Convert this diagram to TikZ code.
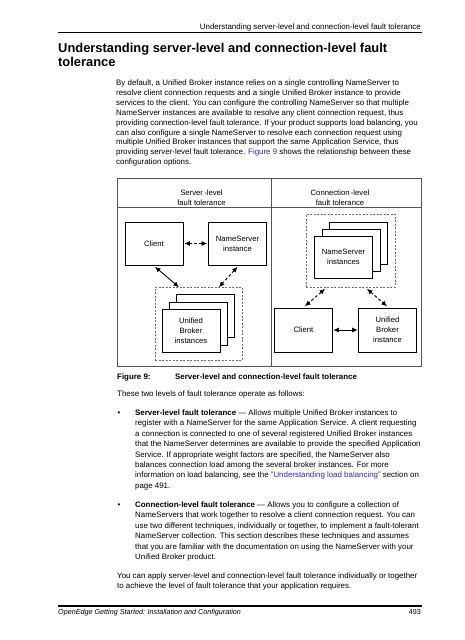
\documentclass[tikz,border=0pt]{standalone}
\usepackage{fontspec}
\setmainfont{Liberation Sans}
\usetikzlibrary{arrows.meta,calc}
\definecolor{linkblue}{RGB}{40,40,200}
\definecolor{framegray}{RGB}{85,85,85}
\definecolor{dashgray}{RGB}{110,110,110}
\newcommand{\bodyf}{\fontsize{7.9}{10}\selectfont}
\newcommand{\diagf}{\fontsize{7.7}{10}\selectfont}
\begin{document}
\begin{tikzpicture}[x=1pt,y=-1pt,
  bt/.style={anchor=base west, inner sep=0pt, font=\bodyf},
  box/.style={draw=black, line width=0.6pt, fill=white, minimum width=58pt, minimum height=43pt, inner sep=1pt, align=center, font=\diagf},
  grp/.style={draw=dashgray, line width=0.7pt, dash pattern=on 2pt off 1.5pt},
  hd/.style={inner sep=0pt, align=center, font=\diagf},
  dbl/.style={{Latex[length=5.5pt,width=5pt]}-{Latex[length=5.5pt,width=5pt]}, line width=0.9pt},
  dsh/.style={dbl, dash pattern=on 3pt off 2pt}
]
\fill[white] (0,0) rectangle (465,640);
\useasboundingbox (0,0) rectangle (465,640);

% running header
\node[anchor=base east, inner sep=0pt, font=\bodyf] (hdr) at (421,29) {Understanding server-level and connection-level fault tolerance};
\draw[line width=0.9pt] (58,32) -- (422,32);

% title
\node[anchor=base west, inner sep=0pt, font=\fontsize{12.9}{15}\selectfont\bfseries] (t1) at (58,52) {Understanding server-level and connection-level fault};
\node[anchor=base west, inner sep=0pt, font=\fontsize{12.9}{15}\selectfont\bfseries] (t2) at (58,66) {tolerance};

% intro paragraph
\node[bt] (p1) at (116,85.5) {By default, a Unified Broker instance relies on a single controlling NameServer to};
\node[bt] (p2) at (116,95.4) {resolve client connection requests and a single Unified Broker instance to provide};
\node[bt] (p3) at (116,105.3) {services to the client. You can configure the controlling NameServer so that multiple};
\node[bt] (p4) at (116,115.2) {NameServer instances are available to resolve any client connection request, thus};
\node[bt] (p5) at (116,125.1) {providing connection-level fault tolerance. If your product supports load balancing, you};
\node[bt] (p6) at (116,135.0) {can also configure a single NameServer to resolve each connection request using};
\node[bt] (p7) at (116,144.9) {multiple Unified Broker instances that support the same Application Service, thus};
\node[bt] (p8) at (116,154.8) {providing server-level fault tolerance. \textcolor{linkblue}{Figure 9} shows the relationship between these};
\node[bt] (p9) at (116,164.7) {configuration options.};

% ---------------- figure ----------------
\draw[framegray, line width=0.8pt] (117,178) rectangle (421,366);
\draw[framegray, line width=0.8pt] (117,207) -- (421,207);
\draw[framegray, line width=0.8pt] (271,178) -- (271,366);

\node[hd] (hl) at (201.5,197.5) {Server\,-level\\fault tolerance};
\node[hd] (hr) at (340,197.5) {Connection\,-level\\fault tolerance};

% left panel
\node[box] (clientL) at (154,243.5) {Client};
\node[box] (nsL) at (237.5,243.5) {NameServer\\instance};
\node[grp, minimum width=87pt, minimum height=73pt, inner sep=0pt] (ubGrp) at (198.5,323.5) {};
\node[box] (ub3) at (205,315.5) {};
\node[box] (ub2) at (198,323.5) {};
\node[box] (ub1) at (191,331) {Unified\\Broker\\instances};

\draw[dsh] ([xshift=1pt]clientL.east) -- ([xshift=-1pt]nsL.west);
\draw[dbl] ([xshift=1pt,yshift=-1.5pt]clientL.south) -- ([xshift=-19.5pt,yshift=-0.5pt]ubGrp.north);
\draw[dsh] ([xshift=0pt,yshift=-1.5pt]nsL.south) -- ([xshift=20.5pt,yshift=-0.5pt]ubGrp.north);

% right panel
\node[grp, minimum width=89pt, minimum height=73pt, inner sep=0pt] (nsGrp) at (350.5,250.5) {};
\node[box, minimum height=42pt] (ns3) at (358,243) {};
\node[box, minimum height=42pt] (ns2) at (351,250) {};
\node[box, minimum height=42pt] (ns1) at (343.5,257) {NameServer\\instances};
\node[box, minimum height=44pt] (clientR) at (303.5,330) {Client};
\node[box, minimum height=44pt] (ubR) at (387.5,330) {Unified\\Broker\\instance};

\draw[dsh] ([xshift=-25.5pt,yshift=-1.5pt]nsGrp.south) -- ([xshift=1.5pt,yshift=1.5pt]clientR.north);
\draw[dsh] ([xshift=16.5pt,yshift=-1.5pt]nsGrp.south) -- ([xshift=-0.5pt,yshift=1.5pt]ubR.north);
\draw[dbl] ([xshift=0.5pt]clientR.east) -- ([xshift=-0.5pt]ubR.west);

% caption
\node[bt, font=\bodyf\bfseries] (figno) at (117,379.5) {Figure 9:};
\node[bt, font=\bodyf\bfseries] (figcap) at (175,379.5) {Server-level and connection-level fault tolerance};

\node[bt] (q0) at (117,396.5) {These two levels of fault tolerance operate as follows:};

% bullet 1
\node[bt] (b1) at (117.5,415.5) {•};
\node[bt] (a1) at (135,415.5) {\textbf{Server-level fault tolerance} — Allows multiple Unified Broker instances to};
\node[bt] (a2) at (135,425.9) {register with a NameServer for the same Application Service. A client requesting};
\node[bt] (a3) at (135,436.3) {a connection is connected to one of several registered Unified Broker instances};
\node[bt] (a4) at (135,446.7) {that the NameServer determines are available to provide the specified Application};
\node[bt] (a5) at (135,457.1) {Service. If appropriate weight factors are specified, the NameServer also};
\node[bt] (a6) at (135,467.5) {balances connection load among the several broker instances. For more};
\node[bt] (a7) at (135,477.9) {information on load balancing, see the \textcolor{linkblue}{"Understanding load balancing"} section on};
\node[bt] (a8) at (135,488.3) {page 491.};

% bullet 2
\node[bt] (b2) at (117.5,507) {•};
\node[bt] (c1) at (135,507) {\textbf{Connection-level fault tolerance} — Allows you to configure a collection of};
\node[bt] (c2) at (135,517.5) {NameServers that work together to resolve a client connection request. You can};
\node[bt] (c3) at (135,528) {use two different techniques, individually or together, to implement a fault-tolerant};
\node[bt] (c4) at (135,538.5) {NameServer collection. This section describes these techniques and assumes};
\node[bt] (c5) at (135,549) {that you are familiar with the documentation on using the NameServer with your};
\node[bt] (c6) at (135,559.5) {Unified Broker product.};

% closing paragraph
\node[bt] (e1) at (117,578.5) {You can apply server-level and connection-level fault tolerance individually or together};
\node[bt] (e2) at (117,588.5) {to achieve the level of fault tolerance that your application requires.};

% footer
\draw[line width=1.1pt] (58,606) -- (422,606);
\node[anchor=base west, inner sep=0pt, font=\fontsize{7.2}{9}\selectfont\itshape] (foot) at (58,614) {OpenEdge Getting Started: Installation and Configuration};
\node[anchor=base east, inner sep=0pt, font=\fontsize{7.2}{9}\selectfont] (pg) at (421,614) {493};
\end{tikzpicture}
\end{document}
